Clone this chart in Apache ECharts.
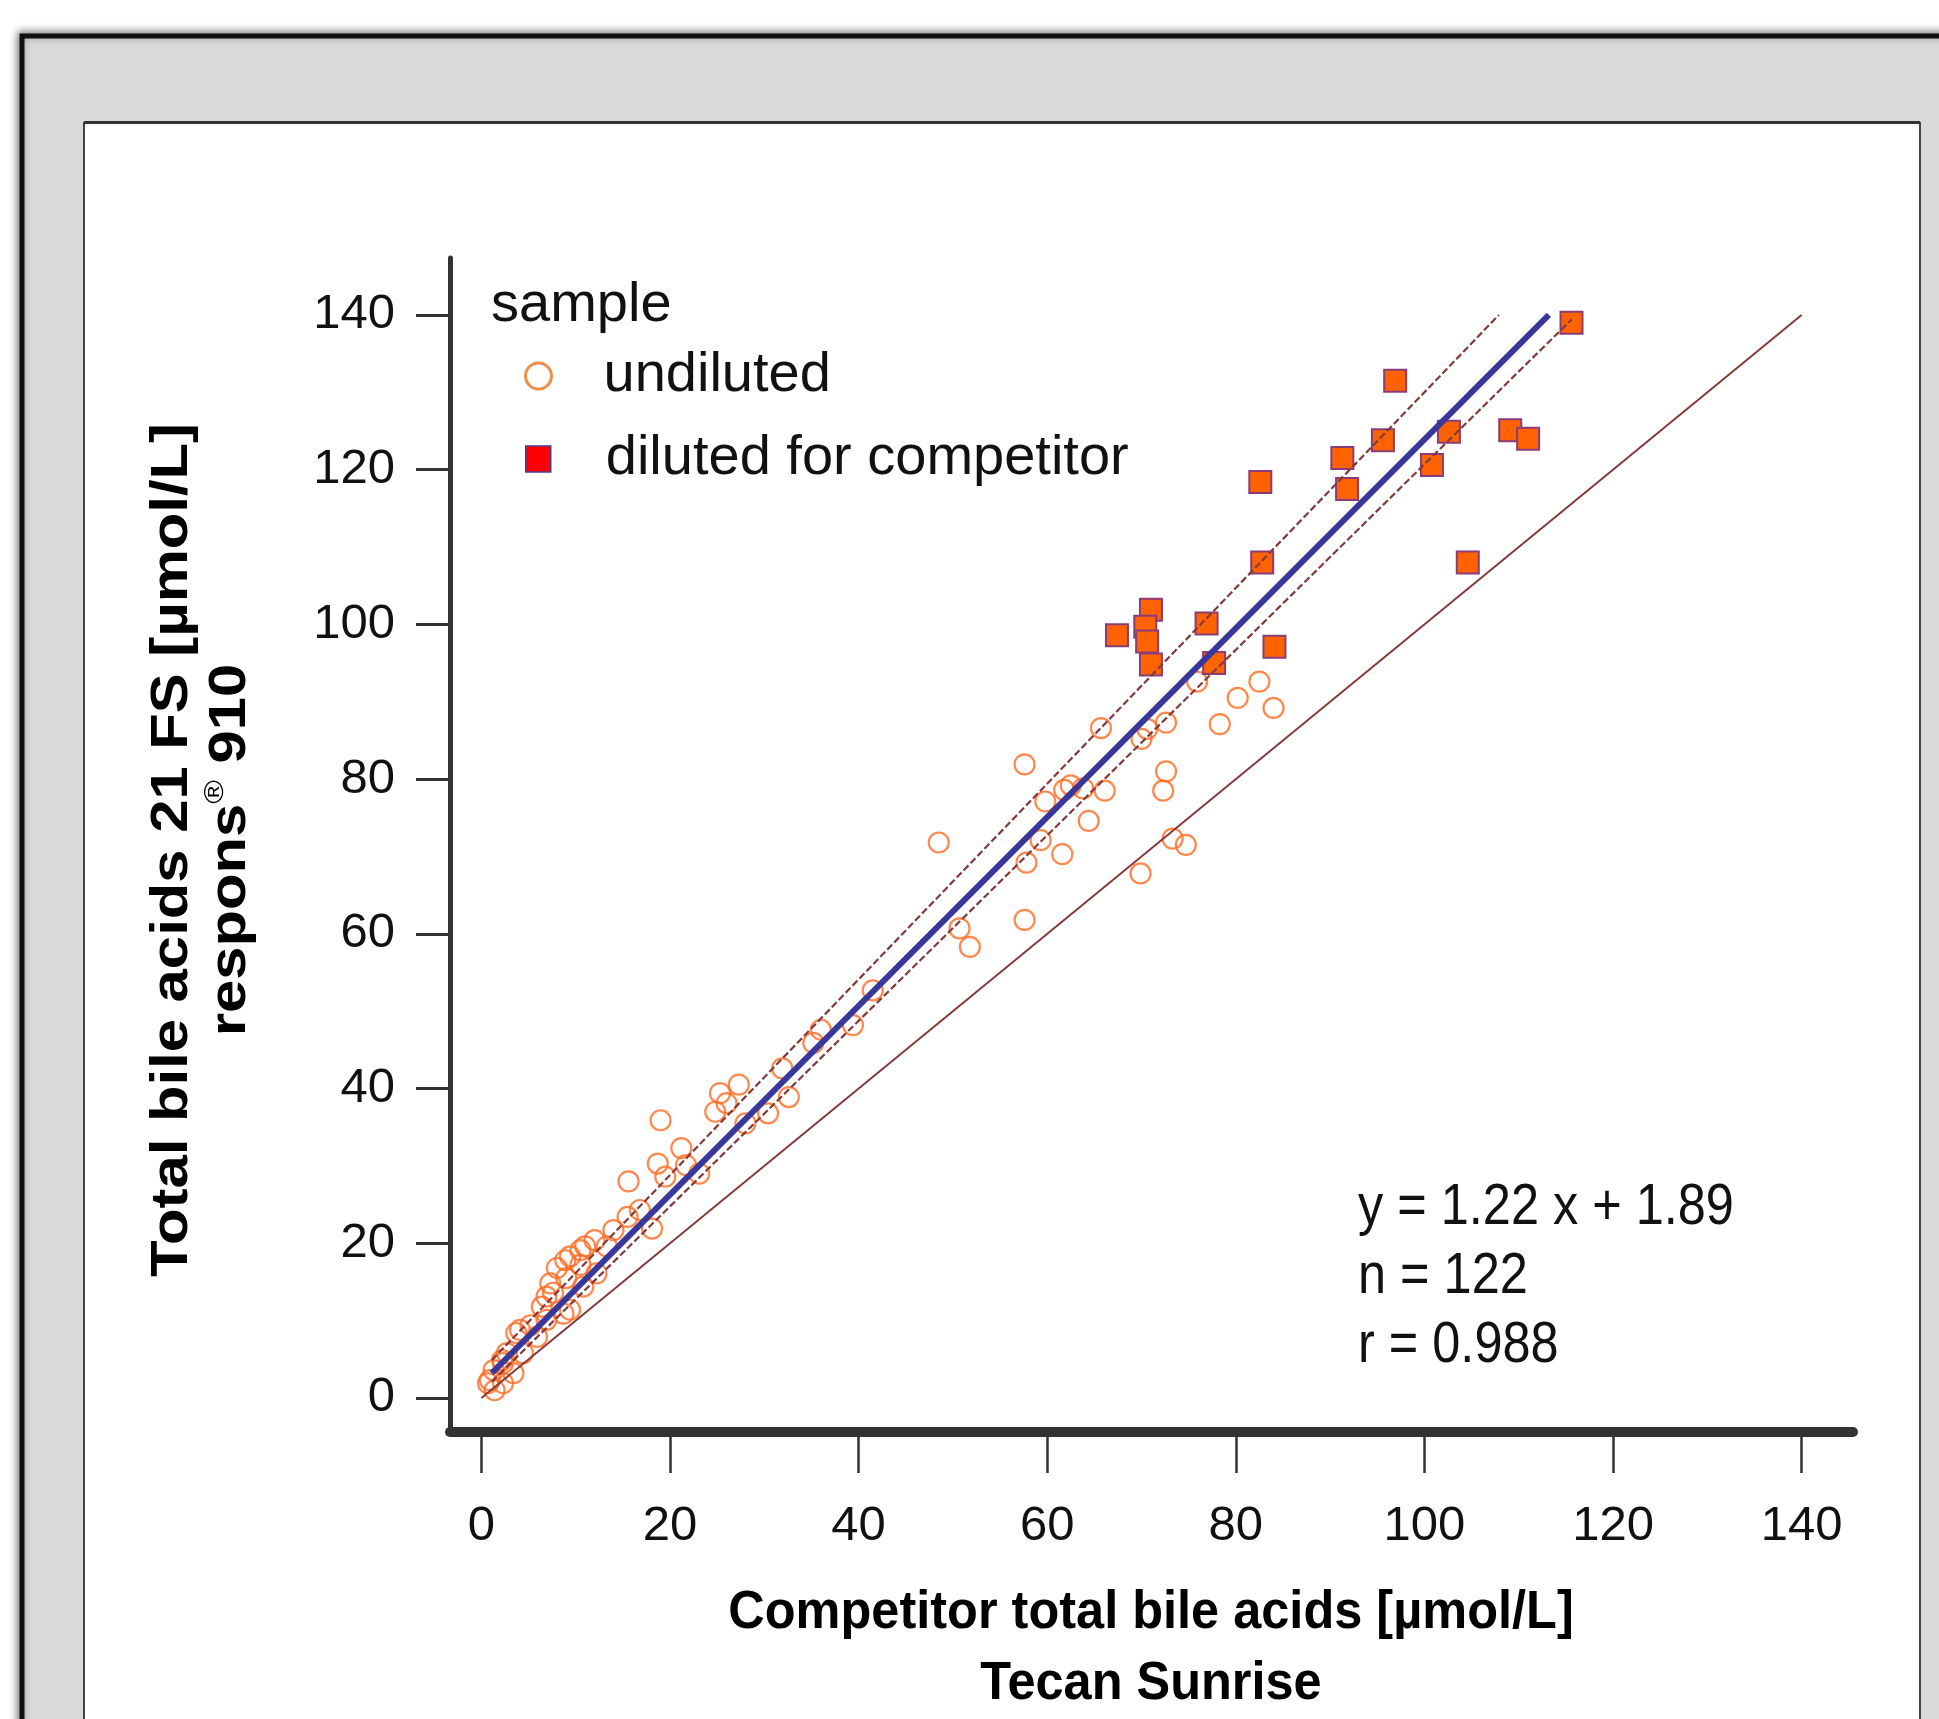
<!DOCTYPE html>
<html>
<head>
<meta charset="utf-8">
<script src="https://cdn.jsdelivr.net/npm/echarts@6/dist/echarts.min.js"></script>
<style>
  html, body { margin: 0; padding: 0; background: #fff; }
  #chart { width: 1939px; height: 1719px; }
</style>
</head>
<body>
<div id="chart"></div>
<script>
// tick labels on both axes
const xTickLabels = ['0', '20', '40', '60', '80', '100', '120', '140']
const yTickLabels = ['0', '20', '40', '60', '80', '100', '120', '140']

// samples measured undiluted [competitor, respons 910]
const undiluted = [
  [75.9, 92.6], [82.5, 92.6], [80.2, 90.5], [84.0, 89.2], [78.3, 87.1], [72.6, 87.3],
  [70.6, 86.5], [70.0, 85.2], [65.7, 86.6], [57.6, 81.9], [72.6, 81.0], [72.3, 78.5],
  [66.1, 78.5], [63.8, 78.8], [62.5, 79.2], [61.8, 78.6], [59.8, 77.1], [64.4, 74.6],
  [48.5, 71.8], [59.3, 72.1], [57.8, 69.2], [61.6, 70.3], [73.3, 72.3], [74.7, 71.5],
  [69.9, 67.8], [57.6, 61.8], [50.7, 60.7], [51.8, 58.3],
  [41.5, 52.7], [39.4, 48.2], [36.0, 47.6], [35.2, 45.9], [31.9, 42.6], [32.6, 38.9],
  [30.4, 36.8], [27.3, 40.5], [25.3, 39.4], [26.0, 38.1], [24.8, 37.0], [28.0, 35.5],
  [19.0, 35.9], [21.2, 32.3], [18.7, 30.3], [21.7, 30.1], [19.5, 28.6], [23.1, 29.0],
  [15.6, 28.0],
  [16.8, 24.3], [18.1, 21.9], [14.0, 21.7], [12.0, 20.4], [11.0, 19.6], [9.4, 18.3],
  [8.0, 16.8], [12.2, 16.1], [10.5, 17.2], [7.3, 14.8], [6.9, 13.1], [6.4, 11.8],
  [8.7, 10.9], [6.9, 10.1], [4.1, 8.8], [5.9, 7.9], [2.7, 5.8], [3.4, 3.2], [1.3, 3.6],
  [0.9, 2.3], [1.4, 1.0], [4.4, 5.8], [9.0, 15.5], [10.5, 19.1], [13.3, 19.6],
  [15.5, 23.4], [2.3, 1.9], [2.2, 4.9], [7.6, 13.6], [3.7, 8.4], [2.3, 4.5], [0.7, 1.9],
  [5.2, 9.4], [8.9, 17.8], [10.8, 14.4], [9.4, 11.4]
]

// samples diluted for competitor
const diluted = [
  [115.6, 139.0], [96.9, 131.5], [95.6, 123.8], [91.3, 121.5], [91.8, 117.5],
  [102.6, 124.9], [100.8, 120.6], [109.1, 125.1], [111.0, 124.0], [82.6, 118.4],
  [82.8, 108.0], [104.6, 108.0], [71.0, 101.9], [67.4, 98.6], [70.4, 99.7],
  [70.6, 97.8], [71.0, 94.8], [76.9, 100.1], [77.7, 95.0], [84.1, 97.1]
]

// line end points
const fitLine = [[1.1, 3.2], [113.2, 140]]
const upperBand = [[1.1, 4.9], [107.9, 140]]
const lowerBand = [[1.1, 2.1], [115.6, 139.4]]
const identityLine = [[0, 0], [140, 140]]

const statLines = ['y = 1.22 x + 1.89', 'n = 122', 'r = 0.988']

const sans = '"Liberation Sans", Arial, sans-serif'

const chart = echarts.init(document.getElementById('chart'), null, {renderer: 'canvas'})

const bandStyle = {color: '#843a3a', width: 2.2, type: [7, 3]}

const option = {
  animation: false,
  grid: {
    left: 450,
    right: 86,
    top: 258,
    bottom: 287,
    containLabel: false,
    outerBoundsMode: 'none'
  },
  xAxis: {
    type: 'value',
    min: -3.33,
    max: 145.45,
    axisLine: {show: true, onZero: false, lineStyle: {color: '#333', width: 10}},
    axisTick: {
      show: true,
      length: 41,
      customValues: xTickLabels.map(Number),
      lineStyle: {color: '#333', width: 2.5}
    },
    axisLabel: {
      customValues: xTickLabels.map(Number),
      margin: 70,
      fontSize: 49,
      fontFamily: sans,
      color: '#111'
    },
    splitLine: {show: false}
  },
  yAxis: {
    type: 'value',
    min: -4.4,
    max: 147.36,
    axisLine: {show: true, onZero: false, lineStyle: {color: '#333', width: 5}},
    axisTick: {
      show: true,
      length: 34,
      customValues: yTickLabels.map(Number),
      lineStyle: {color: '#333', width: 3}
    },
    axisLabel: {
      customValues: yTickLabels.map(Number),
      margin: 55,
      fontSize: 49,
      fontFamily: sans,
      color: '#111'
    },
    splitLine: {show: false}
  },
  legend: [
    {
      left: 524,
      top: 346,
      padding: 0,
      itemWidth: 26,
      itemHeight: 26,
      textStyle: {fontSize: 56, fontFamily: sans, color: '#111', lineHeight: 60, padding: [0, 0, 0, 47]},
      data: [{
        name: 'undiluted',
        icon: 'circle',
        itemStyle: {color: 'rgba(0,0,0,0)', borderColor: '#e8731a', borderWidth: 3}
      }]
    },
    {
      left: 525,
      top: 419,
      padding: 0,
      itemWidth: 25,
      itemHeight: 26,
      textStyle: {fontSize: 56, fontFamily: sans, color: '#111', lineHeight: 60, padding: [0, 0, 20, 50]},
      data: [{
        name: 'diluted for competitor',
        icon: 'rect',
        itemStyle: {color: '#ff0000', borderColor: '#4b3b8c', borderWidth: 1.5}
      }]
    }
  ],
  graphic: [
    // grey outer frame
    {
      type: 'rect',
      z: -20,
      shape: {x: 22, y: 36, width: 1960, height: 1720},
      style: {fill: '#d9d9d9', stroke: '#111', lineWidth: 5, shadowBlur: 8, shadowColor: 'rgba(0,0,0,0.45)', shadowOffsetX: -2, shadowOffsetY: -2}
    },
    // white panel
    {
      type: 'rect',
      z: -19,
      shape: {x: 84, y: 123, width: 1836, height: 1640},
      style: {fill: '#fff', stroke: '#444', lineWidth: 2}
    },
    {
      type: 'line',
      z: -18,
      shape: {x1: 84, y1: 122.5, x2: 1920, y2: 122.5},
      style: {stroke: '#333', lineWidth: 3}
    },
    {
      type: 'text',
      x: 491,
      y: 306,
      style: {text: 'sample', fontSize: 56, fontFamily: sans, fill: '#111', align: 'left', verticalAlign: 'middle'}
    },
    {
      type: 'text',
      x: 1151,
      y: 1613,
      scaleX: 0.935,
      style: {text: 'Competitor total bile acids [µmol/L]', fontSize: 54, fontWeight: 'bold', fontFamily: sans, fill: '#000', align: 'center', verticalAlign: 'middle'}
    },
    {
      type: 'text',
      x: 1151,
      y: 1684,
      scaleX: 0.935,
      style: {text: 'Tecan Sunrise', fontSize: 54, fontWeight: 'bold', fontFamily: sans, fill: '#000', align: 'center', verticalAlign: 'middle'}
    },
    {
      type: 'text',
      x: 173,
      y: 850,
      rotation: Math.PI / 2,
      scaleX: 1.15,
      style: {text: 'Total bile acids 21 FS [µmol/L]', fontSize: 52, fontWeight: 'bold', fontFamily: sans, fill: '#000', align: 'center', verticalAlign: 'middle'}
    },
    {
      type: 'text',
      x: 231,
      y: 850,
      rotation: Math.PI / 2,
      scaleX: 1.15,
      style: {
        text: 'respons{sup|®} 910',
        fontSize: 52,
        fontWeight: 'bold',
        fontFamily: sans,
        fill: '#000',
        align: 'center',
        verticalAlign: 'middle',
        rich: {sup: {fontSize: 28, fontFamily: sans, fill: '#000', verticalAlign: 'top', lineHeight: 60}}
      }
    },
    ...statLines.map(function (t, i) {
      return {
        type: 'text',
        x: 1358,
        y: 1208 + i * 69,
        scaleX: 0.87,
        style: {text: t, fontSize: 58, fontFamily: sans, fill: '#111', align: 'left', verticalAlign: 'middle'}
      }
    })
  ],
  series: [
    {
      name: 'undiluted',
      type: 'scatter',
      data: undiluted,
      symbol: 'circle',
      symbolSize: 20,
      itemStyle: {color: 'rgba(0,0,0,0)', borderColor: '#ff6a22', borderWidth: 2.2},
      z: 2
    },
    {
      name: 'diluted for competitor',
      type: 'scatter',
      data: diluted,
      symbol: 'rect',
      symbolSize: 22,
      itemStyle: {color: '#ff6200', borderColor: '#8a3c78', borderWidth: 2, opacity: 1},
      z: 3
    },
    {
      type: 'line',
      data: identityLine,
      symbol: 'none',
      lineStyle: {color: '#843a3a', width: 2},
      z: 4
    },
    {
      type: 'line',
      data: upperBand,
      symbol: 'none',
      lineStyle: bandStyle,
      z: 4
    },
    {
      type: 'line',
      data: lowerBand,
      symbol: 'none',
      lineStyle: bandStyle,
      z: 4
    },
    {
      type: 'line',
      data: fitLine,
      symbol: 'none',
      lineStyle: {color: '#38389a', width: 6},
      z: 5
    }
  ]
}

chart.setOption(option)
</script>
</body>
</html>
